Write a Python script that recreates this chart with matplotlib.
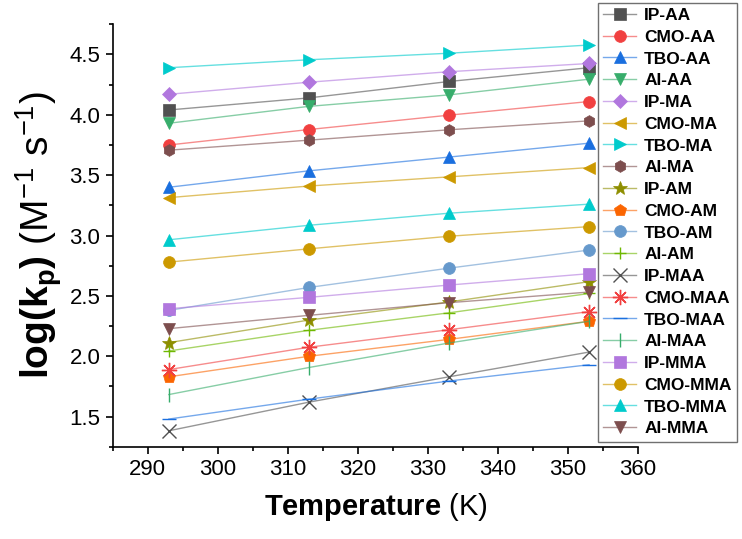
import matplotlib
matplotlib.use("Agg")
import matplotlib.pyplot as plt
from matplotlib.ticker import MultipleLocator
from matplotlib.colors import to_rgba

plt.rcParams['font.family'] = ['Liberation Sans', 'DejaVu Sans']
plt.rcParams['mathtext.fontset'] = 'custom'
plt.rcParams['mathtext.rm'] = 'Liberation Sans'
plt.rcParams['mathtext.it'] = 'Liberation Sans'
plt.rcParams['mathtext.bf'] = 'Liberation Sans:bold'

temps = [293, 313, 333, 353]

labels = ["IP-AA", "CMO-AA", "TBO-AA", "AI-AA", "IP-MA", "CMO-MA", "TBO-MA", "AI-MA",
          "IP-AM", "CMO-AM", "TBO-AM", "AI-AM", "IP-MAA", "CMO-MAA", "TBO-MAA", "AI-MAA",
          "IP-MMA", "CMO-MMA", "TBO-MMA", "AI-MMA"]

ip_aa = [4.04, 4.14, 4.276, 4.39]
cmo_aa = [3.75, 3.878, 3.997, 4.11]
tbo_aa = [3.40, 3.536, 3.65, 3.765]
ai_aa = [3.93, 4.07, 4.165, 4.295]
ip_ma = [4.17, 4.27, 4.357, 4.425]
cmo_ma = [3.314, 3.41, 3.486, 3.563]
tbo_ma = [4.39, 4.456, 4.51, 4.578]
ai_ma = [3.707, 3.79, 3.876, 3.95]
ip_am = [2.113, 2.30, 2.45, 2.618]
cmo_am = [1.83, 2.0, 2.14, 2.29]
tbo_am = [2.38, 2.57, 2.73, 2.88]
ai_am = [2.044, 2.215, 2.36, 2.52]
ip_maa = [1.383, 1.62, 1.83, 2.035]
cmo_maa = [1.89, 2.075, 2.22, 2.37]
tbo_maa = [1.48, 1.645, 1.795, 1.93]
ai_maa = [1.683, 1.907, 2.11, 2.29]
ip_mma = [2.394, 2.488, 2.59, 2.684]
cmo_mma = [2.78, 2.89, 2.994, 3.074]
tbo_mma = [2.965, 3.085, 3.185, 3.26]
ai_mma = [2.229, 2.339, 2.444, 2.532]

series = [ip_aa, cmo_aa, tbo_aa, ai_aa, ip_ma, cmo_ma, tbo_ma, ai_ma,
          ip_am, cmo_am, tbo_am, ai_am, ip_maa, cmo_maa, tbo_maa, ai_maa,
          ip_mma, cmo_mma, tbo_mma, ai_mma]

colors = ['#515151', '#F14040', '#1A6FDF', '#37AD6B', '#B177DE', '#CC9900', '#00CBCC', '#7D4E4E',
          '#8E8E00', '#FB6501', '#6699CC', '#6FB802', '#515151', '#F14040', '#1A6FDF', '#37AD6B',
          '#B177DE', '#CC9900', '#00CBCC', '#7D4E4E']
markers = ['s', 'o', '^', 'v', 'D', '<', '>', 'h',
           '*', 'p', 'o', '+', 'x', (8, 2, 0), '_', '|',
           's', 'o', '^', 'v']
msizes = [8, 8.5, 8.5, 8.5, 7.5, 8.5, 8.5, 8.5,
          10, 9, 8.5, 9, 10, 11, 10, 10,
          8, 8.5, 8.5, 8.5]

fig = plt.figure(figsize=(7.42, 5.39), dpi=100)
ax = fig.add_axes([0.152, 0.171, 0.708, 0.784])

for lab, ys, c, m, ms in zip(labels, series, colors, markers, msizes):
    open_marker = m in ('+', 'x', '_', '|') or isinstance(m, tuple)
    ax.plot(temps, ys, color=to_rgba(c, 0.6), lw=1.0, zorder=2,
            marker=m, markersize=ms, markerfacecolor=c,
            markeredgecolor=c, markeredgewidth=1.0 if open_marker else 0.5,
            label=lab)

ax.set_xlim(285, 360)
ax.set_ylim(1.25, 4.75)
ax.xaxis.set_major_locator(MultipleLocator(10))
ax.xaxis.set_minor_locator(MultipleLocator(5))
ax.yaxis.set_major_locator(MultipleLocator(0.5))
ax.yaxis.set_minor_locator(MultipleLocator(0.25))
ax.yaxis.set_major_formatter(matplotlib.ticker.FormatStrFormatter('%.1f'))
ax.spines['top'].set_visible(False)
ax.spines['right'].set_visible(False)
ax.spines['left'].set_linewidth(1.2)
ax.spines['bottom'].set_linewidth(1.2)
ax.tick_params(which='major', direction='out', length=5, width=1.2, labelsize=16, pad=4)
ax.tick_params(which='minor', direction='out', length=3, width=1.2)

ax.set_xlabel(r"$\mathbf{Temperature}$ (K)", fontsize=21, labelpad=8)
ax.set_ylabel(r"$\mathbf{log(k_p)}$ (M$^{-1}$ s$^{-1}$)", fontsize=28, labelpad=4)

leg = fig.legend(loc='upper right', bbox_to_anchor=(0.993, 0.995), bbox_transform=fig.transFigure,
                 prop={'weight': 'bold', 'size': 12.5}, frameon=True, fancybox=False,
                 edgecolor='#707070', framealpha=1, handlelength=1.9, handletextpad=0.45,
                 labelspacing=0.38, borderpad=0.3, borderaxespad=0)
leg.get_frame().set_linewidth(1.0)

fig.savefig("out.png", dpi=100)
